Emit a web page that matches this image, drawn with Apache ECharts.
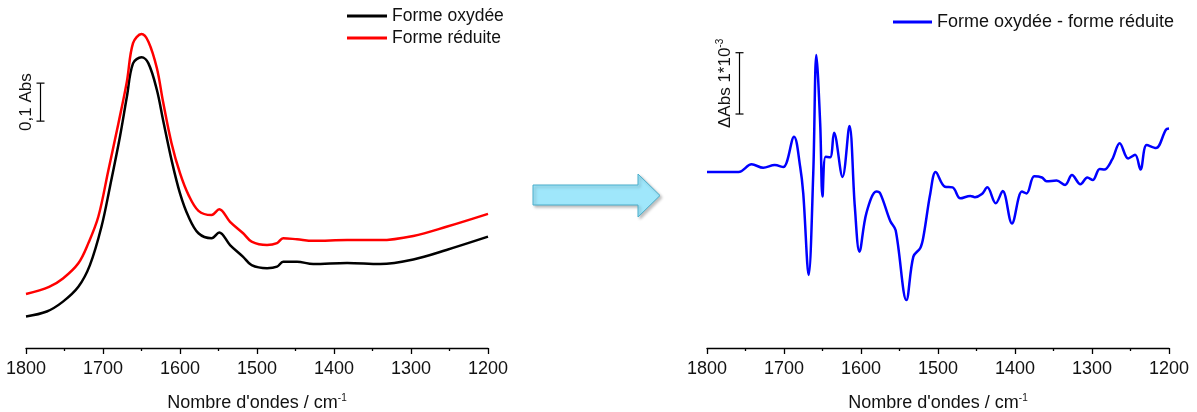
<!DOCTYPE html>
<html>
<head>
<meta charset="utf-8">
<script src="https://cdn.jsdelivr.net/npm/echarts@6/dist/echarts.min.js"></script>
<style>
  html, body { margin: 0; padding: 0; background: #fff; }
  #chart { width: 1197px; height: 412px; }
</style>
</head>
<body>
<div id="chart"></div>
<script>
// spectre IR, forme oxydee / forme reduite (Abs)
const oxWavenumbers = [1800, 1773, 1752, 1732, 1717, 1702, 1691, 1678, 1669, 1661, 1650, 1641, 1630, 1622, 1611, 1600,
  1589, 1576, 1559, 1549, 1535, 1518, 1507, 1487, 1474, 1466, 1448, 1427, 1383, 1340, 1297, 1254, 1200];
const oxAbs = [0.083, 0.096, 0.122, 0.161, 0.218, 0.319, 0.424, 0.556, 0.661, 0.749, 0.765, 0.749, 0.679, 0.600, 0.495, 0.407,
  0.346, 0.302, 0.289, 0.304, 0.271, 0.240, 0.218, 0.210, 0.214, 0.227, 0.227, 0.221, 0.224, 0.221, 0.233, 0.258, 0.293];

const redWavenumbers = [1800, 1770, 1752, 1732, 1719, 1706, 1693, 1680, 1669, 1661, 1650, 1641, 1630, 1622, 1611, 1600,
  1589, 1576, 1559, 1549, 1535, 1518, 1507, 1487, 1474, 1466, 1448, 1427, 1383, 1340, 1297, 1254, 1200];
const redAbs = [0.142, 0.161, 0.183, 0.223, 0.276, 0.346, 0.468, 0.591, 0.701, 0.802, 0.826, 0.806, 0.736, 0.648, 0.539, 0.460,
  0.403, 0.361, 0.350, 0.365, 0.332, 0.302, 0.280, 0.271, 0.276, 0.289, 0.286, 0.282, 0.284, 0.284, 0.295, 0.319, 0.353];

// difference oxydee - reduite, en unites de 1e-3 Abs
const diffWavenumbers = [1800, 1759, 1742, 1727, 1712, 1701, 1687, 1679, 1675, 1668, 1662, 1658, 1653, 1650, 1646, 1640,
  1635, 1624, 1615, 1608, 1602, 1593, 1580, 1575, 1562, 1555, 1541, 1532, 1523, 1519, 1510, 1503, 1491, 1481, 1471, 1458,
  1452, 1443, 1436, 1425, 1416, 1404, 1391, 1385, 1375, 1365, 1359, 1346, 1335, 1326, 1315, 1306, 1299, 1290, 1284, 1274,
  1264, 1253, 1244, 1237, 1229, 1217, 1204, 1200];
const diffMilliAbs = [0, 0, 0.125, 0.07, 0.114, 0.08, 0.576, 0.086, -0.35, -1.68, -0.02, 1.91, 0.79, -0.40, 0.25, 0.24,
  0.64, -0.08, 0.75, -0.57, -1.30, -0.67, -0.32, -0.35, -0.80, -0.95, -2.09, -1.38, -1.24, -1.06, -0.35, 0.0, -0.24, -0.25, -0.43, -0.39,
  -0.41, -0.36, -0.25, -0.51, -0.31, -0.84, -0.32, -0.35, -0.07, -0.09, -0.15, -0.14, -0.21, -0.05, -0.20, -0.09, -0.13, 0.05, 0.04, 0.20,
  0.47, 0.22, 0.28, 0.04, 0.44, 0.39, 0.69, 0.71];

const xTicks = [1800, 1700, 1600, 1500, 1400, 1300, 1200];

// barres d'echelle : [nombre d'onde, debut, fin]
const absScaleBar = [1782, 0.597, 0.697];
const diffScaleBar = [1758, 0.946, 1.946];

const FONT = '"Liberation Sans", Arial, sans-serif';

function zip(xs, ys) {
  return xs.map((x, i) => [x, ys[i]]);
}

function xAxisOpt(gridIndex) {
  return {
    type: 'value',
    gridIndex: gridIndex,
    inverse: true,
    min: xTicks[xTicks.length - 1],
    max: xTicks[0],
    interval: 100,
    name: '{a|Nombre d\'ondes / cm}{s|-1}',
    nameLocation: 'middle',
    nameGap: 45,
    nameTextStyle: {
      rich: {
        a: { fontFamily: FONT, fontSize: 18, color: '#111', lineHeight: 20 },
        s: { fontFamily: FONT, fontSize: 10, color: '#111', lineHeight: 10, verticalAlign: 'top' }
      }
    },
    axisLine: { show: true, onZero: false, lineStyle: { color: '#000', width: 1.3 } },
    axisTick: { show: true, inside: false, length: 6, lineStyle: { color: '#000', width: 1.3 } },
    minorTick: { show: true, splitNumber: 2, length: 3, lineStyle: { color: '#000', width: 1.3 } },
    axisLabel: {
      fontFamily: FONT, fontSize: 18, color: '#111', margin: 12,
      formatter: v => String(v)
    },
    splitLine: { show: false }
  };
}

function scaleBarSeries(name, xi, yi, bar, label, labelRich) {
  return {
    type: 'custom',
    name: name,
    xAxisIndex: xi,
    yAxisIndex: yi,
    silent: true,
    data: [bar],
    renderItem: function (params, api) {
      const p0 = api.coord([api.value(0), api.value(1)]);
      const p1 = api.coord([api.value(0), api.value(2)]);
      const x = Math.round(p0[0]) + 0.5;
      const style = { stroke: '#000', lineWidth: 1.2 };
      return {
        type: 'group',
        children: [
          { type: 'line', shape: { x1: x, y1: p0[1], x2: x, y2: p1[1] }, style: style },
          { type: 'line', shape: { x1: x - 4, y1: p0[1], x2: x + 4, y2: p0[1] }, style: style },
          { type: 'line', shape: { x1: x - 4, y1: p1[1], x2: x + 4, y2: p1[1] }, style: style },
          {
            type: 'text',
            x: x - 14,
            y: (p0[1] + p1[1]) / 2,
            rotation: Math.PI / 2,
            style: {
              text: label,
              rich: labelRich,
              font: '17px ' + FONT,
              fill: '#111',
              align: 'center',
              verticalAlign: 'middle'
            }
          }
        ]
      };
    }
  };
}

const chart = echarts.init(document.getElementById('chart'));

const option = {
  animation: false,
  backgroundColor: '#fff',
  grid: [
    { left: 26, right: 709, top: 6, bottom: 64, outerBoundsMode: 'none' },
    { left: 707, right: 28, top: 6, bottom: 64, outerBoundsMode: 'none' }
  ],
  xAxis: [xAxisOpt(0), xAxisOpt(1)],
  yAxis: [
    { type: 'value', gridIndex: 0, show: false, min: 0, max: 0.9 },
    { type: 'value', gridIndex: 1, show: false, min: -2.871, max: 2.708 }
  ],
  legend: [
    {
      data: ['Forme oxydée', 'Forme réduite'],
      orient: 'vertical',
      left: 347,
      top: 7,
      padding: 0,
      icon: 'rect',
      itemWidth: 40,
      itemHeight: 3,
      itemGap: 4,
      textStyle: { fontFamily: FONT, fontSize: 17.5, color: '#111', lineHeight: 18 }
    },
    {
      data: ['Forme oxydée - forme réduite'],
      left: 893,
      top: 13,
      padding: 0,
      icon: 'rect',
      itemWidth: 39,
      itemHeight: 3,
      textStyle: { fontFamily: FONT, fontSize: 18, color: '#111', lineHeight: 18 }
    }
  ],
  graphic: [
    {
      type: 'polygon',
      shape: {
        points: [[533, 185], [638, 185], [638, 174], [660, 195.5], [638, 217], [638, 205], [533, 205]]
      },
      style: {
        fill: '#9fe7fb',
        stroke: '#4aaecb',
        lineWidth: 1,
        shadowBlur: 3,
        shadowColor: 'rgba(0,0,0,0.25)',
        shadowOffsetX: 2,
        shadowOffsetY: 2
      }
    }
  ],
  series: [
    {
      name: 'Forme oxydée',
      type: 'line',
      xAxisIndex: 0,
      yAxisIndex: 0,
      data: zip(oxWavenumbers, oxAbs),
      smooth: 0.35,
      showSymbol: false,
      symbol: 'none',
      color: '#000',
      lineStyle: { color: '#000', width: 2.5 }
    },
    {
      name: 'Forme réduite',
      type: 'line',
      xAxisIndex: 0,
      yAxisIndex: 0,
      data: zip(redWavenumbers, redAbs),
      smooth: 0.35,
      showSymbol: false,
      symbol: 'none',
      color: '#ff0000',
      lineStyle: { color: '#ff0000', width: 2.5 }
    },
    {
      name: 'Forme oxydée - forme réduite',
      type: 'line',
      xAxisIndex: 1,
      yAxisIndex: 1,
      data: zip(diffWavenumbers, diffMilliAbs),
      smooth: 0.35,
      showSymbol: false,
      symbol: 'none',
      color: '#0000ff',
      lineStyle: { color: '#0000ff', width: 2.5 }
    },
    scaleBarSeries('echelle abs', 0, 0, absScaleBar, '0,1 Abs', null),
    scaleBarSeries('echelle diff', 1, 1, diffScaleBar, '{a|ΔAbs 1*10}{s|-3}', {
      a: { fontFamily: FONT, fontSize: 17, fill: '#111', lineHeight: 20 },
      s: { fontFamily: FONT, fontSize: 10, fill: '#111', lineHeight: 10, verticalAlign: 'top' }
    })
  ]
};

chart.setOption(option);
</script>
</body>
</html>
